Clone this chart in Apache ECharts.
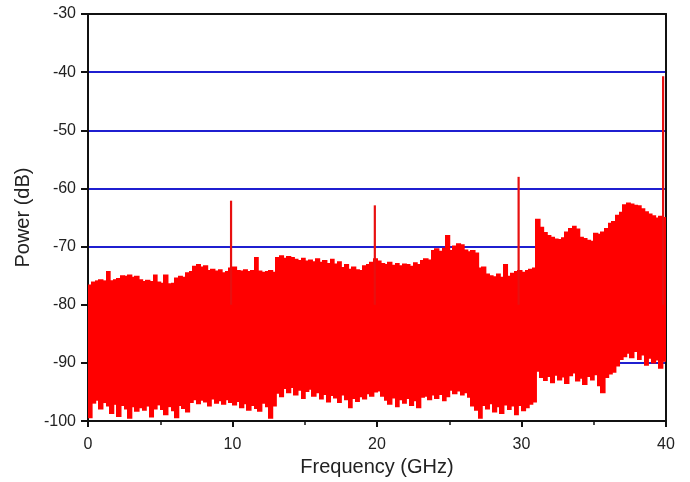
<!DOCTYPE html>
<html>
<head>
<meta charset="utf-8">
<script src="https://cdn.jsdelivr.net/npm/echarts@6/dist/echarts.min.js"></script>
<style>
  html, body { margin: 0; padding: 0; background: #fff; }
  #chart { width: 690px; height: 482px; }
</style>
</head>
<body>
<div id="chart"></div>
<script>
// noise floor in 0.25 GHz bins (bin i starts at i * BIN_GHZ)
const BIN_GHZ = 0.25;

const upperDb = [
  -76.5, -76.0, -75.8, -75.6, -75.8, -74.2, -75.8, -75.6, -75.4, -74.9,
  -75.0, -74.8, -75.2, -75.0, -75.6, -75.9, -75.7, -75.9, -74.8, -76.0,
  -76.2, -74.8, -76.3, -76.2, -75.3, -75.0, -75.2, -74.4, -74.2, -73.3,
  -73.0, -73.4, -73.2, -74.0, -73.8, -74.1, -73.9, -74.4, -74.2, -73.6,
  -73.4, -74.0, -74.1, -73.9, -74.2, -74.0, -71.8, -74.1, -74.3, -74.2,
  -74.0, -74.3, -71.8, -71.5, -71.9, -71.6, -71.8, -72.1, -72.3, -71.9,
  -72.4, -72.2, -72.5, -72.0, -72.6, -72.3, -72.8, -72.1, -72.9, -72.5,
  -73.5, -73.0, -73.8, -73.4, -73.9, -74.0, -73.2, -73.0, -72.6, -72.0,
  -72.4, -72.8, -73.0, -72.6, -73.1, -72.8, -73.2, -72.9, -73.0, -73.3,
  -72.7, -73.0, -72.3, -72.0, -72.2, -70.6, -70.3, -70.7, -70.2, -68.0,
  -70.6, -69.8, -69.4, -69.6, -70.5, -70.8, -70.6, -71.0, -73.6, -73.4,
  -74.6, -74.9, -75.1, -74.6, -75.2, -73.0, -75.0, -74.5, -74.2, -74.0,
  -74.3, -74.0, -73.8, -73.6, -65.2, -66.6, -67.5, -68.0, -68.3, -68.6,
  -68.7, -68.4, -67.4, -66.8, -66.4, -66.9, -68.3, -68.5, -68.8, -69.0,
  -67.6, -67.8, -67.4, -66.8, -65.9, -65.6, -64.5, -64.0, -62.7, -62.4,
  -62.6, -62.8, -62.9, -63.4, -63.9, -64.3, -64.6, -65.0, -64.7, -64.9
];

const lowerDb = [
  -99.5, -97.0, -96.5, -98.0, -96.9, -97.5, -98.8, -97.2, -99.3, -97.4,
  -98.0, -99.6, -97.6, -98.4, -97.8, -98.2, -97.5, -99.4, -98.0, -97.3,
  -98.1, -99.0, -97.6, -98.3, -99.5, -97.4, -97.9, -98.5, -96.9, -96.4,
  -97.1, -96.5, -96.8, -97.5, -96.3, -97.0, -96.6, -97.2, -96.4, -96.9,
  -97.3, -96.7, -97.8, -97.1, -98.2, -97.4, -97.9, -98.4, -97.0, -97.6,
  -99.6, -97.5, -95.3, -95.9, -94.5, -95.2, -94.3, -95.6, -94.8, -96.2,
  -95.0, -94.6, -95.8, -95.2, -96.3, -95.5, -96.8, -95.7, -96.1, -96.9,
  -95.6, -96.4, -97.8, -96.2, -96.7, -95.9, -96.3, -95.4, -95.8, -95.1,
  -94.9, -95.8, -96.5, -97.2, -96.1, -97.6, -96.4, -97.0, -96.2, -97.4,
  -96.6, -97.8, -96.0, -95.8, -96.4, -95.6, -96.2, -95.5, -96.6, -95.9,
  -94.8, -95.4, -94.9, -95.6, -95.2, -96.0, -97.5, -98.2, -99.6, -97.4,
  -98.0, -97.1, -98.5, -97.6, -98.8, -97.3, -98.1, -97.5, -99.0, -97.4,
  -98.3, -97.8, -97.2, -96.8, -91.5, -92.6, -93.1, -92.4, -93.5, -92.2,
  -93.0, -92.5, -93.6, -92.3, -91.8, -93.2, -92.7, -93.8, -92.4, -93.0,
  -92.1, -94.0, -95.2, -92.6, -92.0, -91.7, -90.6, -89.5, -89.0, -88.4,
  -89.2, -88.1, -89.5, -88.7, -90.5, -89.3, -90.1, -89.6, -91.0, -89.8
];

// discrete tones on top of the floor
const toneGHz = [9.9, 19.85, 29.8, 39.8];
const toneDb = [-62.1, -62.9, -58.0, -40.7];
const toneBaseDb = -80;

const yTicks = [-100, -90, -80, -70, -60, -50, -40, -30];

const chart = echarts.init(document.getElementById('chart'), null, { renderer: 'canvas' });

const noiseData = upperDb.map((hi, i) => [i * BIN_GHZ, lowerDb[i], hi]);
const toneData = toneGHz.map((f, i) => [f, toneDb[i]]);

const labelFont = { fontFamily: 'Liberation Sans', fontSize: 16, color: '#222' };
const nameFont = { fontFamily: 'Liberation Sans', fontSize: 20, color: '#222' };
const blue = '#1f1fd0';
const gridColors = yTicks.map((v, i) => (i === 0 || i === yTicks.length - 1) ? 'rgba(0,0,0,0)' : blue);

const option = {
  animation: false,
  backgroundColor: '#fff',
  grid: { left: 88, right: 24, top: 14, bottom: 58, show: false },
  xAxis: [{
    type: 'value', min: 0, max: 40, interval: 10,
    name: 'Frequency (GHz)', nameLocation: 'middle', nameGap: 34,
    nameTextStyle: nameFont,
    axisLine: { show: true, onZero: false, lineStyle: { color: '#111', width: 2 } },
    axisTick: { show: true, inside: false, length: 6, lineStyle: { color: '#111', width: 2 } },
    minorTick: { show: true, splitNumber: 2, length: 4, lineStyle: { color: '#111', width: 1.5 } },
    axisLabel: Object.assign({ margin: 15 }, labelFont),
    splitLine: { show: false }
  }, {
    type: 'value', min: 0, max: 40, position: 'top',
    axisLine: { show: true, onZero: false, lineStyle: { color: '#111', width: 2 } },
    axisTick: { show: false }, axisLabel: { show: false }, splitLine: { show: false }
  }],
  yAxis: [{
    type: 'value', min: -100, max: -30, interval: 10,
    name: 'Power (dB)', nameLocation: 'middle', nameGap: 50,
    nameTextStyle: nameFont,
    axisLine: { show: true, onZero: false, lineStyle: { color: '#111', width: 2 } },
    axisTick: { show: true, inside: false, length: 7, lineStyle: { color: '#111', width: 2 } },
    axisLabel: Object.assign({ margin: 12 }, labelFont),
    splitLine: { show: true, lineStyle: { color: gridColors, width: 2 } }
  }, {
    type: 'value', min: -100, max: -30, position: 'right',
    axisLine: { show: true, onZero: false, lineStyle: { color: '#111', width: 2 } },
    axisTick: { show: false }, axisLabel: { show: false }, splitLine: { show: false }
  }],
  series: [{
    name: 'noise',
    type: 'custom',
    xAxisIndex: 0, yAxisIndex: 0,
    z: 3,
    clip: true,
    renderItem: function (params, api) {
      const f = api.value(0);
      const top = api.coord([f, api.value(2)]);
      const bottom = api.coord([f + BIN_GHZ, api.value(1)]);
      const right = Math.min(bottom[0] + 1, params.coordSys.x + params.coordSys.width);
      return {
        type: 'rect',
        shape: { x: Math.floor(top[0]), y: top[1], width: right - Math.floor(top[0]), height: bottom[1] - top[1] },
        style: { fill: '#ff0000', stroke: null, lineWidth: 0 },
        emphasisDisabled: true
      };
    },
    encode: { x: 0, y: [1, 2] },
    data: noiseData
  }, {
    name: 'tones',
    type: 'custom',
    xAxisIndex: 0, yAxisIndex: 0,
    z: 4,
    renderItem: function (params, api) {
      const f = api.value(0);
      const p0 = api.coord([f, toneBaseDb]);
      const p1 = api.coord([f, api.value(1)]);
      return {
        type: 'line',
        shape: { x1: p0[0], y1: p0[1], x2: p1[0], y2: p1[1] },
        style: { stroke: '#e81010', lineWidth: 2.2 }
      };
    },
    encode: { x: 0, y: 1 },
    data: toneData
  }]
};

chart.setOption(option);
</script>
</body>
</html>
